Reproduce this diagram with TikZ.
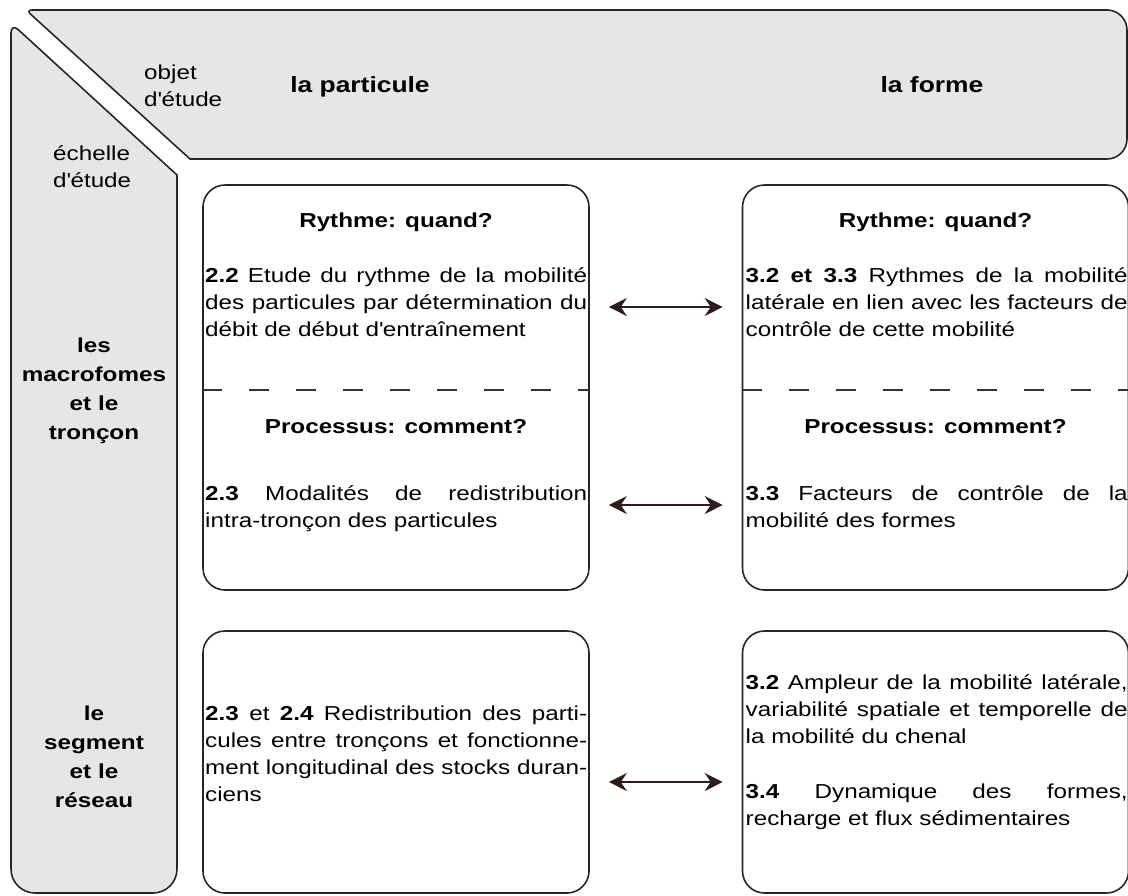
\documentclass[tikz,border=0pt]{standalone}
\usepackage{fontspec}
\setmainfont{Liberation Sans}[FakeStretch=1.2]
\usetikzlibrary{arrows.meta, positioning, calc}
\definecolor{panelgrey}{RGB}{229,230,232}
\definecolor{arrowdark}{RGB}{45,28,28}
\newcommand{\ap}{\textquotesingle}

\begin{document}
\begin{tikzpicture}[
    x=1pt, y=-1pt,
    every node/.style={font=\fontsize{20.2}{27}\selectfont, inner sep=0pt},
    panel/.style={draw=black!85, line width=1.6pt, fill=panelgrey},
    cell/.style={draw=black!85, line width=1.6pt, rounded corners=22pt, minimum width=386pt},
    head/.style={font=\fontsize{20.2}{29}\selectfont\bfseries, anchor=base},
    title/.style={font=\fontsize{22}{29}\selectfont\bfseries, anchor=base},
    para/.style={text width=382pt, align=justify, anchor=base west},
    split/.style={draw=black!80, line width=1.4pt, dash pattern=on 20pt off 27pt},
    link/.style={{Stealth[length=18pt,width=18pt,inset=6pt]}-{Stealth[length=18pt,width=18pt,inset=6pt]}, draw=arrowdark, fill=arrowdark, line width=1.6pt, shorten <=19pt, shorten >=19pt}
]
    \useasboundingbox (0,0) rectangle (1128,895);

    % grey frames: object (top) and scale (left)
    \draw[panel] (190,159) [rounded corners=20pt] -- (1127,159) -- (1127,10) [rounded corners=6pt] -- (26,10) [sharp corners] -- cycle;
    \draw[panel] (177,175) [rounded corners=24pt] -- (177,893) -- (11,893) [rounded corners=10pt] -- (11,23) [sharp corners] -- cycle;

    \node[anchor=base west, align=left] (objet) at (144,106) {objet\\d\ap étude};
    \node[anchor=base west, align=left] (echelle) at (53,187) {échelle\\d\ap étude};
    \node[title] (particule) at (360,92) {la particule};
    \node[title] (forme) at (932,92) {la forme};
    \node[head, align=center] (troncon) at (94,439) {les\\macrofomes\\et le\\tronçon};
    \node[head, align=center] (reseau) at (94,807) {le\\segment\\et le\\réseau};

    % cells
    \node[cell, minimum height=405pt] (boxA) at (396,387.5) {};
    \node[cell, minimum height=405pt] (boxB) at (935.5,387.5) {};
    \node[cell, minimum height=262pt] (boxC) at (396,762) {};
    \node[cell, minimum height=262pt] (boxD) at (935.5,762) {};

    \draw[split] (boxA.west |- 0,390) -- (boxA.east |- 0,390);
    \draw[split] (boxB.west |- 0,390) -- (boxB.east |- 0,390);

    % box texts
    \node[head] (rythA) at (boxA.center |- 0,227) {Rythme: quand?};
    \node[head] (rythB) at (boxB.center |- 0,227) {Rythme: quand?};
    \node[head] (procA) at (boxA.center |- 0,433) {Processus: comment?};
    \node[head] (procB) at (boxB.center |- 0,433) {Processus: comment?};

    \node[para] (p22) at (205,282) {\textbf{2.2} Etude du rythme de la mobilité\linebreak des particules par détermination du\linebreak débit de début d\ap entraînement};
    \node[para] (p32) at (745.5,282) {\textbf{3.2 et 3.3} Rythmes de la mobilité\linebreak latérale en lien avec les facteurs de\linebreak contrôle de cette mobilité};
    \node[para] (p23) at (205,500) {\textbf{2.3} Modalités de redistribution\linebreak intra-tronçon des particules};
    \node[para] (p33) at (745.5,500) {\textbf{3.3} Facteurs de contrôle de la\linebreak mobilité des formes};
    \node[para] (p24) at (205,720) {\textbf{2.3} et \textbf{2.4} Redistribution des parti-\linebreak cules entre tronçons et fonctionne-\linebreak ment longitudinal des stocks duran-\linebreak ciens};
    \node[para] (p34) at (745.5,689) {\textbf{3.2} Ampleur de la mobilité latérale,\linebreak variabilité spatiale et temporelle de\linebreak la mobilité du chenal\par\vskip 28pt
        \textbf{3.4} Dynamique des formes,\linebreak recharge et flux sédimentaires};

    % links
    \coordinate (rowone) at (0,307);
    \coordinate (rowtwo) at (0,505);
    \coordinate (rowthree) at (0,782);
    \draw[link] (boxA.east |- rowone) -- (boxB.west |- rowone);
    \draw[link] (boxA.east |- rowtwo) -- (boxB.west |- rowtwo);
    \draw[link] (boxC.east |- rowthree) -- (boxD.west |- rowthree);
\end{tikzpicture}
\end{document}
